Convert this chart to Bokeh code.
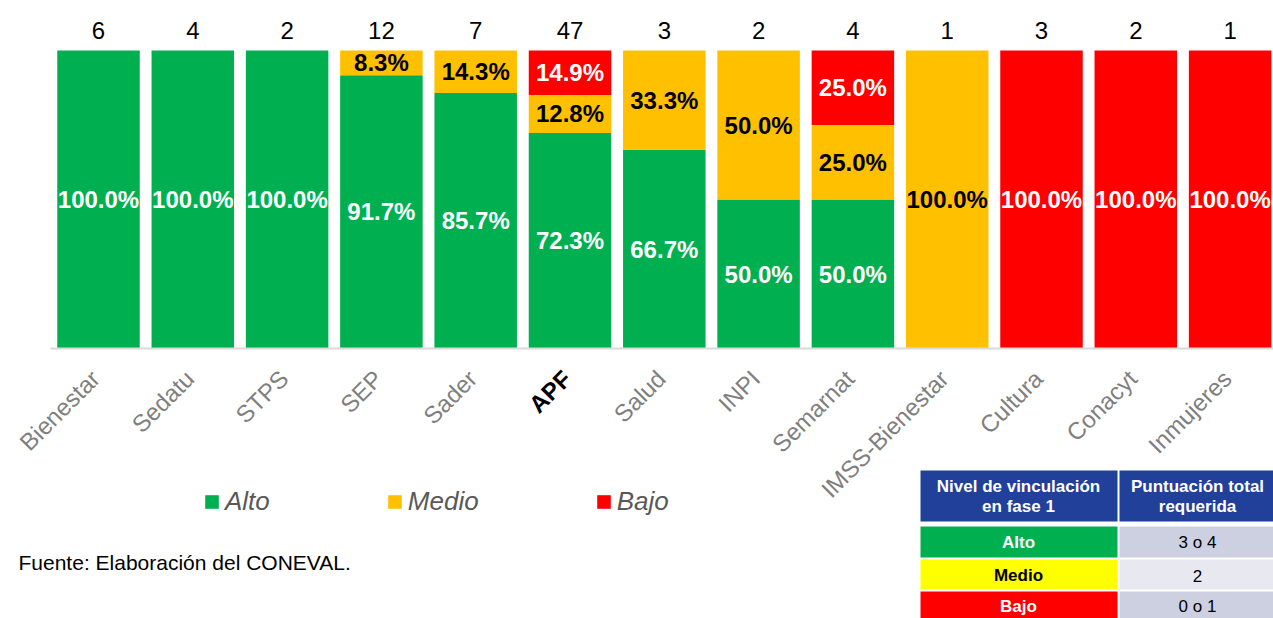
import math
from bokeh.plotting import figure
from bokeh.models import ColumnDataSource, Range1d, Legend, LegendItem
from bokeh.core.properties import value
from bokeh.embed import file_html
from bokeh.resources import INLINE

# ---------------- data ----------------
categories = ["Bienestar", "Sedatu", "STPS", "SEP", "Sader", "APF", "Salud", "INPI",
              "Semarnat", "IMSS-Bienestar", "Cultura", "Conacyt", "Inmujeres"]
counts = [6, 4, 2, 12, 7, 47, 3, 2, 4, 1, 3, 2, 1]
alto = [100.0, 100.0, 100.0, 91.7, 85.7, 72.3, 66.7, 50.0, 50.0, 0.0, 0.0, 0.0, 0.0]
medio = [0.0, 0.0, 0.0, 8.3, 14.3, 12.8, 33.3, 50.0, 25.0, 100.0, 0.0, 0.0, 0.0]
bajo = [0.0, 0.0, 0.0, 0.0, 0.0, 14.9, 0.0, 0.0, 25.0, 0.0, 100.0, 100.0, 100.0]
highlight = "APF"

levels = ["Alto", "Medio", "Bajo"]
level_colors = ["#00B050", "#FFC000", "#FF0000"]
level_text_colors = ["white", "black", "white"]

table_header = ["Nivel de vinculación\nen fase 1", "Puntuación total\nrequerida"]
table_levels = ["Alto", "Medio", "Bajo"]
table_scores = ["3 o 4", "2", "0 o 1"]
table_level_fill = ["#00B050", "#FFFF00", "#FF0000"]
table_level_text = ["white", "black", "white"]
table_score_fill = ["#CDD0E1", "#E8E9F0", "#CDD0E1"]
source_note = "Fuente: Elaboración del CONEVAL."

# ---------------- layout helpers ----------------
W, H = 1273, 618
PITCH = 94.3          # px per category
X0 = 98.0             # px of first category centre
BASE = 348.0          # px (from top) of the 0 % baseline
PPU = 2.98            # px per percentage point
FONT_NAME = "Liberation Sans"
FONT = value(FONT_NAME)


def dx(px):
    """canvas px -> data x"""
    return (px - X0) / PITCH


def dy(py):
    """canvas px (from top) -> data y"""
    return (BASE - py) / PPU


n = len(categories)
xs = list(range(n))

p = figure(width=W, height=H,
           x_range=Range1d(dx(0), dx(W)), y_range=Range1d(dy(H), dy(0)),
           x_axis_location=None, y_axis_location=None,
           toolbar_location=None, output_backend="svg",
           min_border=0, outline_line_color=None,
           background_fill_color="white", border_fill_color="white")
p.xgrid.visible = False
p.ygrid.visible = False

# ---------------- stacked bars ----------------
src = ColumnDataSource(dict(x=xs, Alto=alto, Medio=medio, Bajo=bajo))
bars = p.vbar_stack(levels, x="x", width=82.5 / PITCH, source=src,
                    fill_color=level_colors, line_color=None)

# baseline (category axis line)
p.segment(x0=[dx(50)], y0=[0], x1=[dx(1290)], y1=[0], line_color="#D9D9D9", line_width=2)

# percentage labels centred in each segment
lx, ly, lt, lc = [], [], [], []
for i in range(n):
    bottom = 0.0
    for vals, tc in zip([alto, medio, bajo], level_text_colors):
        v = vals[i]
        if v > 0:
            lx.append(i)
            ly.append(bottom + v / 2.0)
            lt.append(f"{v:.1f}%")
            lc.append(tc)
        bottom += v
p.text(x="x", y="y", text="t", text_color="c",
       source=ColumnDataSource(dict(x=lx, y=ly, t=lt, c=lc)),
       text_font=FONT, text_font_size="24px", text_font_style="bold",
       text_align="center", text_baseline="middle")

# counts above bars
p.text(x="x", y="y", text="t",
       source=ColumnDataSource(dict(x=xs, y=[dy(30)] * n, t=[str(c) for c in counts])),
       text_font=FONT, text_font_size="24px", text_color="black",
       text_align="center", text_baseline="middle")

# rotated category labels
norm_idx = [i for i in xs if categories[i] != highlight]
hi_idx = [i for i in xs if categories[i] == highlight]
lab_y = dy(374)
lab_dx = -3.0 / PITCH
p.text(x="x", y="y", text="t",
       source=ColumnDataSource(dict(x=[i + lab_dx for i in norm_idx], y=[lab_y] * len(norm_idx),
                                    t=[categories[i] for i in norm_idx])),
       angle=math.pi / 4, text_font=FONT, text_font_size="24px", text_color="#7F7F7F",
       text_align="right", text_baseline="middle")
p.text(x="x", y="y", text="t",
       source=ColumnDataSource(dict(x=[i + lab_dx for i in hi_idx], y=[lab_y] * len(hi_idx),
                                    t=[categories[i] for i in hi_idx])),
       angle=math.pi / 4, text_font=FONT, text_font_size="24px", text_color="black",
       text_font_style="bold", text_align="right", text_baseline="middle")

# ---------------- legend ----------------
legend = Legend(items=[LegendItem(label=lab, renderers=[r]) for lab, r in zip(levels, bars)],
                orientation="horizontal", location=(203, 101),
                glyph_width=17, glyph_height=17, label_standoff=5, spacing=116,
                padding=0, margin=0, border_line_color=None, background_fill_alpha=0,
                label_text_font=FONT_NAME, label_text_font_size="26px",
                label_text_font_style="italic", label_text_color="#595959")
p.add_layout(legend)

# ---------------- source note ----------------
p.text(x=[dx(18)], y=[dy(562)], text=[source_note], text_font=FONT,
       text_font_size="21px", text_color="black",
       text_align="left", text_baseline="middle")

# ---------------- criteria table ----------------
c1l, c1r, c2l, c2r = dx(920), dx(1117), dx(1119), dx(1290)
hdr_t, hdr_b = dy(470), dy(521)
row_tb = [(526, 557), (559, 589), (591, 625)]

p.quad(left=[c1l, c2l], right=[c1r, c2r], top=[hdr_t, hdr_t], bottom=[hdr_b, hdr_b],
       fill_color="#21409A", line_color=None)
p.text(x=[dx(1018), dx(1197)], y=[dy(496)] * 2, text=table_header,
       text_font=FONT, text_font_size="17px", text_font_style="bold",
       text_color="white", text_align="center", text_baseline="middle",
       text_line_height=1.1)

rt = [dy(t) for t, b in row_tb]
rb = [dy(b) for t, b in row_tb]
rc = [dy(542), dy(575), dy(606)]
p.quad(left=[c1l] * 3, right=[c1r] * 3, top=rt, bottom=rb,
       fill_color=table_level_fill, line_color=None)
p.quad(left=[c2l] * 3, right=[c2r] * 3, top=rt, bottom=rb,
       fill_color=table_score_fill, line_color=None)
p.text(x=[dx(1018)] * 3, y=rc, text=table_levels, text_color=table_level_text,
       text_font=FONT, text_font_size="17px", text_font_style="bold",
       text_align="center", text_baseline="middle")
p.text(x=[dx(1197)] * 3, y=rc, text=table_scores, text_color="black",
       text_font=FONT, text_font_size="17px",
       text_align="center", text_baseline="middle")

open("out.html", "w").write(file_html(p, INLINE))
